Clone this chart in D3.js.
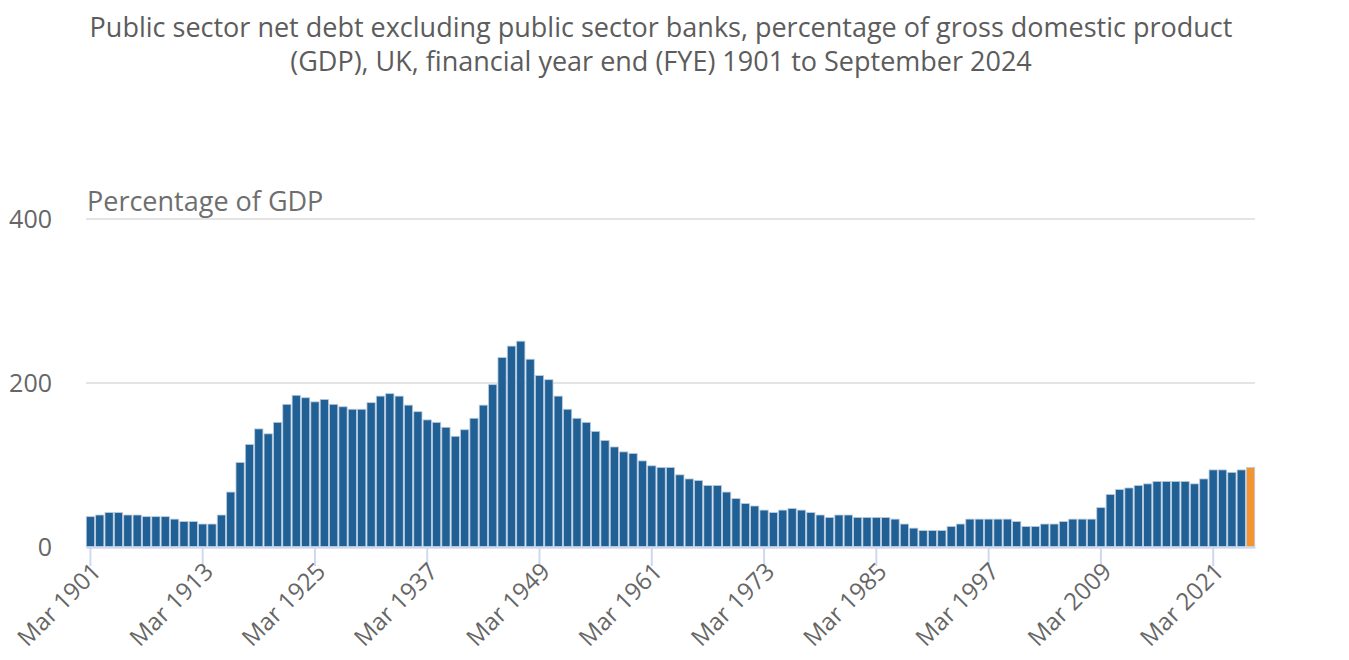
<!DOCTYPE html>
<html>
<head>
<meta charset="utf-8">
<script src="https://cdn.jsdelivr.net/npm/d3@7"></script>
<style>
  body { margin: 0; background: #fff; font-family: "Open Sans", sans-serif; }
  .grid line { stroke: #e4e4e4; stroke-width: 2; }
</style>
</head>
<body>
<div id="chart"></div>
<script>
// data, financial year end (March) plus latest month
var years = d3.range(1901, 2025);
var categories = years.map(function (y) { return "Mar " + y; }).concat(["Sep 2024"]);

var debt = [
  37, 39, 42, 42, 39, 39, 37, 37, 37, 34,   // 1901-1910
  31, 31, 28, 28, 39, 67, 103, 125, 144, 138, // 1911-1920
  152, 174, 185, 182, 177, 180, 174, 171, 168, 168, // 1921-1930
  176, 184, 187, 184, 173, 165, 155, 152, 146, 135, // 1931-1940
  143, 157, 173, 198, 231, 245, 251, 229, 209, 204, // 1941-1950
  184, 168, 157, 152, 141, 130, 122, 116, 114, 105, // 1951-1960
  99, 97, 97, 88, 83, 81, 75, 75, 67, 59,          // 1961-1970
  53, 50, 45, 42, 45, 47, 45, 42, 39, 36,          // 1971-1980
  39, 39, 36, 36, 36, 36, 34, 28, 23, 20,          // 1981-1990
  20, 20, 25, 28, 34, 34, 34, 34, 34, 31,          // 1991-2000
  25, 25, 28, 28, 31, 34, 34, 34, 48, 64,          // 2001-2010
  70, 72, 75, 77, 80, 80, 80, 80, 77, 83,          // 2011-2020
  94, 94, 91, 94,                                  // 2021-2024
  97                                               // Sep 2024
];

var tickLabels = ["Mar 1901", "Mar 1913", "Mar 1925", "Mar 1937", "Mar 1949", "Mar 1961",
  "Mar 1973", "Mar 1985", "Mar 1997", "Mar 2009", "Mar 2021"];
var yTicks = [0, 200, 400];

var W = 1349, H = 660;
var margin = {top: 219, right: 94, bottom: 113, left: 86},
    width = W - margin.left - margin.right,
    height = H - margin.top - margin.bottom;

var svg = d3.select("#chart").append("svg")
    .attr("width", W)
    .attr("height", H);

// title
var title = svg.append("text")
    .attr("text-anchor", "middle")
    .style("font-size", "27px")
    .style("fill", "#5c5c5c");
title.append("tspan").attr("x", 661).attr("y", 37)
    .text("Public sector net debt excluding public sector banks, percentage of gross domestic product");
title.append("tspan").attr("x", 661).attr("y", 71)
    .text("(GDP), UK, financial year end (FYE) 1901 to September 2024");

var g = svg.append("g")
    .attr("transform", "translate(" + margin.left + "," + margin.top + ")");

var x = d3.scaleBand().domain(categories).range([0, width]).paddingInner(0.12).paddingOuter(0.03);
var y = d3.scaleLinear().domain([0, 400]).range([height, 0]);

// gridlines
g.append("g").attr("class", "grid")
    .selectAll("line")
    .data(yTicks.filter(function (d) { return d > 0; }))
    .enter().append("line")
    .attr("x1", 0).attr("x2", width)
    .attr("y1", function (d) { return y(d); })
    .attr("y2", function (d) { return y(d); });

// y labels
g.selectAll(".ylab").data(yTicks)
    .enter().append("text")
    .attr("class", "ylab")
    .attr("x", -34)
    .attr("y", function (d) { return y(d); })
    .attr("dy", "0.35em")
    .attr("text-anchor", "end")
    .style("font-size", "25px")
    .style("fill", "#666")
    .text(function (d) { return d; });

g.append("text")
    .attr("x", 1)
    .attr("y", -8)
    .style("font-size", "27px")
    .style("fill", "#6e6e6e")
    .text("Percentage of GDP");

// bars
g.selectAll(".bar").data(debt)
    .enter().append("rect")
    .attr("class", "bar")
    .attr("x", function (d, i) { return x(categories[i]); })
    .attr("width", x.bandwidth())
    .attr("y", function (d) { return y(d); })
    .attr("height", function (d) { return height - y(d); })
    .style("fill", function (d, i) { return i === debt.length - 1 ? "#f39431" : "#206095"; })
    .style("stroke", "#b9cbe0")
    .style("stroke-width", 0.8);

// x axis
var xAxis = g.append("g")
    .attr("transform", "translate(0," + height + ")")
    .call(d3.axisBottom(x).tickValues(tickLabels).tickSize(19).tickSizeOuter(0));
xAxis.select(".domain").style("stroke", "#cfd9ee").style("stroke-width", 2.5);
xAxis.selectAll(".tick line").style("stroke", "#cfd9ee").style("stroke-width", 2);
xAxis.selectAll(".tick text")
    .style("font-family", "Open Sans, sans-serif")
    .style("font-size", "24px")
    .style("fill", "#666")
    .attr("text-anchor", "end")
    .attr("transform", "translate(6,20) rotate(-45)")
    .attr("dy", "0.35em")
    .attr("y", 0);
</script>
</body>
</html>
